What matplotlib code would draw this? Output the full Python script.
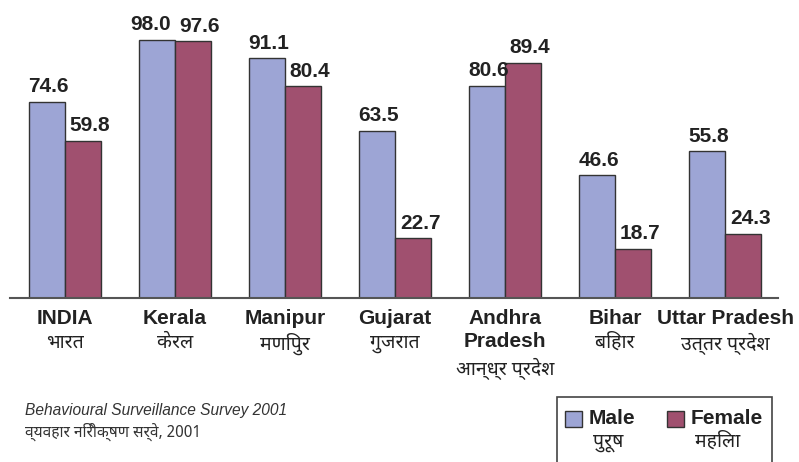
import matplotlib
matplotlib.use("Agg")
import matplotlib.pyplot as plt
from matplotlib.patches import Rectangle
from matplotlib import font_manager

states_en = ["INDIA", "Kerala", "Manipur", "Gujarat", "Andhra\nPradesh", "Bihar", "Uttar Pradesh"]
states_hi = ["भारत", "केरल", "मणिपुर", "गुजरात", "आन्ध्र प्रदेश", "बिहार", "उत्तर प्रदेश"]
male = [74.6, 98.0, 91.1, 63.5, 80.6, 46.6, 55.8]
female = [59.8, 97.6, 80.4, 22.7, 89.4, 18.7, 24.3]

MALE_C = "#9da5d5"
FEMALE_C = "#a0506f"
EDGE = "#333333"
TXT = "#222222"

# pick a plain Devanagari face if one is installed
installed = {f.name for f in font_manager.fontManager.ttflist}
deva = None
for name in ["Noto Sans Devanagari", "Hind", "Mukta", "Ek Mukta", "Khula", "Poppins",
             "Yantramanav", "Sarala", "Biryani", "Karma"]:
    if name in installed:
        deva = name
        break

latin = "Liberation Sans"
fam = [latin] + ([deva] if deva else []) + ["DejaVu Sans"]
deva_fam = ([deva] if deva else []) + ["DejaVu Sans"]

W, H = 799, 462
fig = plt.figure(figsize=(W / 100, H / 100), dpi=100)


def fx(x):
    return x / W


def fy(y):
    return 1 - y / H


ax = fig.add_axes([fx(10), fy(298), fx(768), 278 / H])
x = list(range(len(male)))
bw = 0.327
ax.bar([i - bw / 2 for i in x], male, bw, color=MALE_C, edgecolor=EDGE, linewidth=1)
ax.bar([i + bw / 2 for i in x], female, bw, color=FEMALE_C, edgecolor=EDGE, linewidth=1)

for i in x:
    # female labels sit a little right of their bar; push male left when both are level
    mdx = -5 if abs(male[i] - female[i]) < 5 else 1
    ax.annotate(f"{male[i]:.1f}", (i - bw / 2, male[i]), xytext=(mdx, 4), textcoords="offset points",
                ha="center", va="bottom", fontsize=15, fontweight="bold", color=TXT, family=fam)
    ax.annotate(f"{female[i]:.1f}", (i + bw / 2, female[i]), xytext=(5, 4), textcoords="offset points",
                ha="center", va="bottom", fontsize=15, fontweight="bold", color=TXT, family=fam)

ax.set_xlim(-0.5, 6.48)
ax.set_ylim(0, 105.6)
for s in ["top", "right", "left"]:
    ax.spines[s].set_visible(False)
ax.spines["bottom"].set_color("#555555")
ax.spines["bottom"].set_linewidth(1.5)
ax.set_yticks([])
ax.set_xticks([])

# category labels: bold English, Hindi below
for i in x:
    n_lines = states_en[i].count("\n") + 1
    ax.annotate(states_en[i], (i, 0), xytext=(0, -8), textcoords="offset points",
                ha="center", va="top", fontsize=15, fontweight="bold", color=TXT,
                family=fam, linespacing=1.25)
    ax.annotate(states_hi[i], (i, 0), xytext=(0, -7 - 18 * n_lines), textcoords="offset points",
                ha="center", va="top", fontsize=14, color=TXT, family=deva_fam)

# source note
fig.text(fx(25), fy(410), "Behavioural Surveillance Survey 2001", fontsize=11.2, style="italic",
         color="#333333", va="center", family=fam)
fig.text(fx(25), fy(432), "व्यवहार निरीक्षण सर्वे, 2001", fontsize=11.2, style="italic",
         color="#333333", va="center", family=deva_fam)

# legend box
fig.add_artist(Rectangle((fx(557), fy(470)), fx(215), (470 - 397) / H, transform=fig.transFigure,
                         facecolor="white", edgecolor="#444444", linewidth=1.2))
for px0, c, en, hi, tx in [(565, MALE_C, "Male", "पुरूष", 589), (667, FEMALE_C, "Female", "महिला", 691)]:
    fig.add_artist(Rectangle((fx(px0), fy(427)), fx(17), 16 / H, transform=fig.transFigure,
                             facecolor=c, edgecolor=EDGE, linewidth=1))
    fig.text(fx(tx), fy(419), en, fontsize=15, fontweight="bold", color=TXT, va="center",
             family=fam)
    fig.text(fx(tx + 4), fy(442), hi, fontsize=14, color=TXT, va="center", family=deva_fam)

fig.savefig("out.png", dpi=100)
